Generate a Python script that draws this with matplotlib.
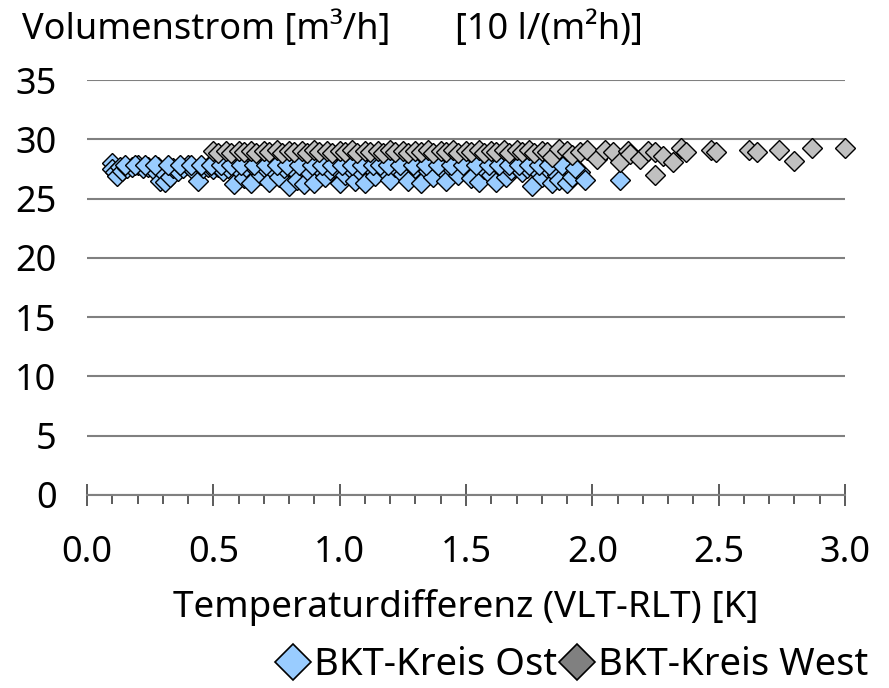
import matplotlib
matplotlib.use("Agg")
import matplotlib.pyplot as plt
from matplotlib.lines import Line2D
from matplotlib.ticker import MultipleLocator

# BKT-Kreis Ost (blau)
ost_x = [0.10, 0.10, 0.11, 0.12, 0.13, 0.14, 0.16, 0.18, 0.20, 0.22, 0.24, 0.26, 0.28,
         0.29, 0.30, 0.31, 0.33, 0.34, 0.36, 0.38, 0.40, 0.42, 0.44, 0.46, 0.48, 0.50,
         0.52, 0.54, 0.56, 0.58, 0.60, 0.62, 0.63, 0.65, 0.67, 0.69, 0.70, 0.72, 0.74,
         0.76, 0.78, 0.80, 0.82, 0.83, 0.85, 0.86, 0.88, 0.90, 0.92, 0.94, 0.96, 0.98,
         1.00, 1.02, 1.04, 1.06, 1.08, 1.10, 1.12, 1.14, 1.17, 1.20, 1.22, 1.25, 1.27,
         1.30, 1.32, 1.35, 1.37, 1.40, 1.42, 1.45, 1.47, 1.50, 1.52, 1.55, 1.57, 1.60,
         1.62, 1.64, 1.66, 1.68, 1.70, 1.72, 1.74, 1.76, 1.78, 1.80, 1.82, 1.84, 1.86,
         1.87, 1.90, 1.92, 1.95, 1.97, 2.11,
         0.15, 0.19, 0.23, 0.27, 0.32, 0.37, 0.41, 0.45, 0.49, 0.53, 0.57, 0.61, 0.66,
         0.71, 0.75, 0.79, 0.84, 0.89, 0.93, 0.97, 1.01, 1.05, 1.09, 1.13, 1.16, 1.19,
         1.24, 1.29, 1.34, 1.39, 1.44, 1.49, 1.54, 1.59, 1.63, 1.67, 1.71, 1.75, 1.79,
         1.83, 1.88, 1.93]
ost_y = [28.0, 27.5, 27.2, 26.9, 27.7, 27.3, 27.6, 27.7, 27.8, 27.6, 27.7, 27.5, 27.7,
         26.5, 27.2, 26.4, 26.8, 27.6, 27.3, 27.6, 27.8, 27.4, 26.5, 27.6, 27.7, 27.5,
         27.7, 27.3, 27.6, 26.2, 27.4, 26.7, 27.7, 26.3, 27.5, 27.0, 27.7, 26.4, 27.3,
         26.8, 27.6, 26.1, 27.4, 26.6, 27.7, 26.2, 27.2, 26.3, 27.6, 26.8, 27.4, 27.7,
         26.3, 27.0, 27.6, 26.5, 27.3, 26.3, 27.7, 26.9, 27.5, 26.6, 27.7, 27.1, 26.5,
         27.6, 26.3, 27.3, 26.8, 27.6, 26.5, 27.4, 27.0, 27.7, 26.7, 26.4, 27.5, 27.0,
         26.4, 27.6, 26.8, 27.4, 27.7, 27.2, 27.6, 26.1, 27.3, 26.8, 27.6, 26.3, 27.0,
         26.6, 26.3, 26.8, 27.2, 26.6, 26.6,
         27.8, 27.85, 27.8, 27.85, 27.8, 27.85, 27.8, 27.85, 27.8, 27.85, 27.8, 27.85, 27.8,
         27.85, 27.8, 27.85, 27.8, 27.85, 27.8, 27.85, 27.8, 27.85, 27.8, 27.85, 27.8, 27.85,
         27.8, 27.85, 27.8, 27.85, 27.8, 27.85, 27.8, 27.85, 27.8, 27.85, 27.8, 27.85, 27.8,
         27.85, 27.8, 27.6]

# BKT-Kreis West (grau)
west_x = [0.50, 0.52, 0.55, 0.57, 0.60, 0.62, 0.65, 0.67, 0.70, 0.72, 0.75, 0.77,
          0.80, 0.82, 0.85, 0.87, 0.90, 0.92, 0.95, 0.97, 1.00, 1.02, 1.05, 1.07,
          1.10, 1.12, 1.15, 1.17, 1.20, 1.22, 1.25, 1.27, 1.30, 1.32, 1.35, 1.37,
          1.40, 1.42, 1.45, 1.47, 1.50, 1.52, 1.55, 1.57, 1.60, 1.62, 1.65, 1.67,
          1.70, 1.72, 1.75, 1.77, 1.80, 1.82, 1.84, 1.87, 1.90, 1.92, 1.95, 1.98,
          2.02, 2.05, 2.08, 2.11, 2.14, 2.15, 2.19, 2.22, 2.25, 2.25, 2.28, 2.32,
          2.35, 2.37, 2.47, 2.49, 2.62, 2.65, 2.74, 2.80, 2.87, 3.00]
west_y = [29.0, 28.85, 29.0, 28.85, 29.0, 28.95, 29.0, 28.85, 29.0, 28.95, 29.1, 28.85,
          29.0, 28.95, 29.0, 28.85, 29.1, 28.95, 29.0, 28.85, 29.0, 28.95, 29.1, 28.85,
          29.0, 28.95, 29.0, 28.85, 29.1, 28.95, 29.0, 28.85, 29.0, 28.95, 29.1, 28.85,
          29.0, 28.95, 29.1, 28.85, 29.0, 28.95, 29.1, 28.85, 29.0, 28.95, 29.1, 28.85,
          29.1, 28.95, 29.1, 28.85, 29.0, 28.95, 28.5, 29.2, 29.0, 28.7, 28.9, 29.1,
          28.3, 29.1, 28.9, 28.1, 29.0, 28.8, 28.3, 29.0, 28.9, 27.0, 28.6, 28.1,
          29.25, 28.9, 29.1, 28.9, 29.1, 28.9, 29.1, 28.2, 29.3, 29.3]

plt.rcParams['font.family'] = ['Noto Sans', 'DejaVu Sans']
fs = 26

fig = plt.figure(figsize=(8.89, 6.88), dpi=100)
ax = fig.add_axes([87/889, 1 - 495/688, (845 - 87)/889, (495 - 80)/688])

ax.plot(ost_x, ost_y, ls='none', marker='D', ms=10.5, mfc='#99CCFF', mec='black',
        mew=1.0, clip_on=False)
ax.plot(west_x, west_y, ls='none', marker='D', ms=10.5, mfc='#C0C0C0', mec='black',
        mew=1.0, clip_on=False)

ax.set_xlim(0, 3)
ax.set_ylim(0, 35)
ax.xaxis.set_major_locator(MultipleLocator(0.5))
ax.xaxis.set_minor_locator(MultipleLocator(0.1))
ax.yaxis.set_major_locator(MultipleLocator(5))
ax.set_xticklabels([f"{v:.1f}" for v in ax.get_xticks()])

for s in ['top', 'right', 'left']:
    ax.spines[s].set_visible(False)
ax.spines['bottom'].set_color('#808080')
ax.spines['bottom'].set_linewidth(1.5)
ax.grid(axis='y', color='#808080', lw=1.5)
ax.set_axisbelow(True)

ax.tick_params(axis='x', which='major', direction='inout', length=16, width=1.2,
               color='#404040', labelsize=fs, pad=21)
ax.tick_params(axis='x', which='minor', direction='out', length=6.5, width=1.2,
               color='#404040')
ax.tick_params(axis='y', length=0, labelsize=fs, pad=22)

ax.set_xlabel("Temperaturdifferenz (VLT-RLT) [K]", fontsize=26.5, labelpad=13)

fig.text(22/889, 1 - 30/688, "Volumenstrom [m³/h]", fontsize=fs, va='center', ha='left')
fig.text(455/889, 1 - 30/688, "[10 l/(m²h)]", fontsize=fs, va='center', ha='left')

handles = [
    Line2D([], [], ls='none', marker='D', ms=18, mfc='#99CCFF', mec='black', mew=1.2),
    Line2D([], [], ls='none', marker='D', ms=18, mfc='#808080', mec='black', mew=1.2),
]
fig.legend(handles, ["BKT-Kreis Ost", "BKT-Kreis West"], loc='center',
           bbox_to_anchor=(572/889, 1 - 665/688), ncol=2, frameon=False,
           fontsize=27.5, handletextpad=0.1, columnspacing=0.05, handlelength=0.9)

fig.savefig("out.png", dpi=100)
